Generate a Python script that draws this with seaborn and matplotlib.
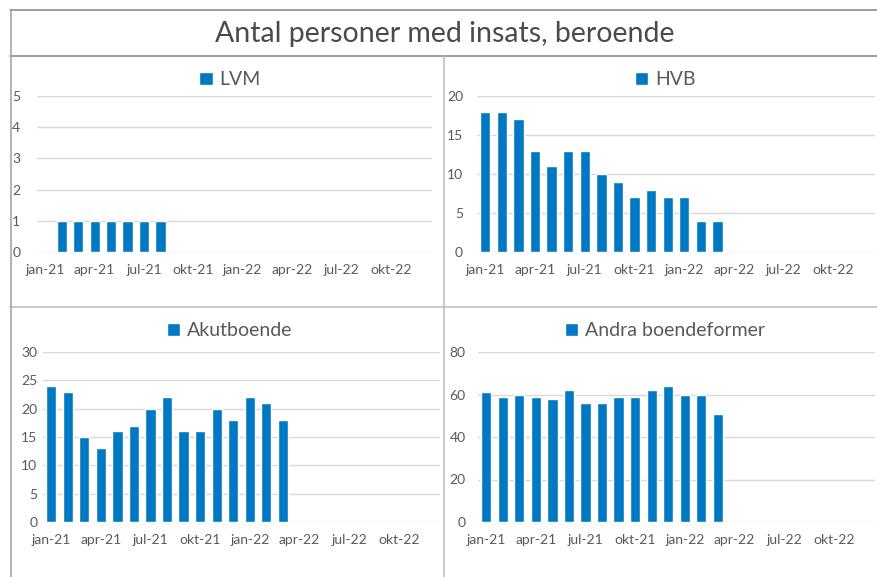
import pandas as pd
import matplotlib.pyplot as plt
import seaborn as sns
from matplotlib.lines import Line2D

# months jan-21 .. dec-22
months = ['jan-21', 'feb-21', 'mar-21', 'apr-21', 'maj-21', 'jun-21',
          'jul-21', 'aug-21', 'sep-21', 'okt-21', 'nov-21', 'dec-21',
          'jan-22', 'feb-22', 'mar-22', 'apr-22', 'maj-22', 'jun-22',
          'jul-22', 'aug-22', 'sep-22', 'okt-22', 'nov-22', 'dec-22']
tick_labels = ['jan-21', 'apr-21', 'jul-21', 'okt-21',
               'jan-22', 'apr-22', 'jul-22', 'okt-22']

lvm_months = months[1:8]
lvm = [1, 1, 1, 1, 1, 1, 1]

hvb_months = months[:15]
hvb = [18, 18, 17, 13, 11, 13, 13, 10, 9, 7, 8, 7, 7, 4, 4]

akut_months = months[:15]
akut = [24, 23, 15, 13, 16, 17, 20, 22, 16, 16, 20, 18, 22, 21, 18]

andra_months = months[:15]
andra = [61, 59, 60, 59, 58, 62, 56, 56, 59, 59, 62, 64, 60, 60, 51]

sns.set_theme(style='white')
plt.rcParams['font.family'] = ['Lato', 'DejaVu Sans']

W, H = 877, 577
fig = plt.figure(figsize=(W / 100, H / 100), dpi=100)
blue = '#0079C2'
txt = '#595959'

# name, months, values, ymax, step, axes box (px: left, top, right, bottom), ylabel pad, legend center x
panels = [
    ('LVM', lvm_months, lvm, 5, 1, (37, 96, 432, 252), 12.0, 230),
    ('HVB', hvb_months, hvb, 20, 5, (477, 96, 875, 252), 10.0, 665),
    ('Akutboende', akut_months, akut, 30, 5, (43, 352, 440, 522), 4.0, 230),
    ('Andra boendeformer', andra_months, andra, 80, 20, (478, 352, 875, 522), 9.0, 665),
]

for name, mths, vals, ymax, step, box, ypad, lcx in panels:
    l, t, r, b = box
    ax = fig.add_axes([l / W, 1 - b / H, (r - l) / W, (b - t) / H])
    df = pd.DataFrame({'month': mths, 'value': vals})
    sns.barplot(data=df, x='month', y='value', order=months, color=blue,
                width=0.62, saturation=1, errorbar=None, label=name, ax=ax)
    ax.set_ylim(0, ymax)
    ax.set_xlim(-0.5, len(months) - 0.5)
    ax.set_yticks(range(0, ymax + 1, step))
    ax.set_xticks([months.index(m) for m in tick_labels])
    ax.set_xticklabels(tick_labels)
    ax.set_xlabel('')
    ax.set_ylabel('')
    ax.yaxis.grid(True, color='#D9D9D9', lw=1)
    ax.set_axisbelow(True)
    for s in ax.spines.values():
        s.set_visible(False)
    ax.tick_params(axis='y', length=0, pad=ypad, labelsize=10, labelcolor=txt)
    ax.tick_params(axis='x', length=0, pad=9, labelsize=10, labelcolor=txt)
    leg_y = 1 - (t - 16) / H if t < 200 else 1 - (t - 21) / H
    ax.legend(loc='center', bbox_to_anchor=(lcx / W, leg_y),
              bbox_transform=fig.transFigure, frameon=False,
              fontsize=14, labelcolor=txt, handlelength=0.68,
              handleheight=0.68, handletextpad=0.35)

# title
fig.text(445 / W, 1 - 34 / H, 'Antal personer med insats, beroende',
         ha='center', va='center', fontsize=20.5, color='#4A4A4A',
         family=['Lato', 'DejaVu Sans'])

# frame lines of the original layout
def hline(y, x0, x1, c):
    fig.add_artist(Line2D([x0 / W, x1 / W], [1 - y / H, 1 - y / H],
                          color=c, lw=1.2, transform=fig.transFigure))

def vline(x, y0, y1, c):
    fig.add_artist(Line2D([x / W, x / W], [1 - y0 / H, 1 - y1 / H],
                          color=c, lw=1.2, transform=fig.transFigure))

hline(9.5, 10, W, '#8C8C8C')
hline(56, 10, W, '#8C8C8C')
hline(306.5, 10, W, '#BFBFBF')
vline(10.5, 9.5, H, '#A6A6A6')
vline(444, 56, H, '#BFBFBF')

fig.savefig('out.png', dpi=100)
